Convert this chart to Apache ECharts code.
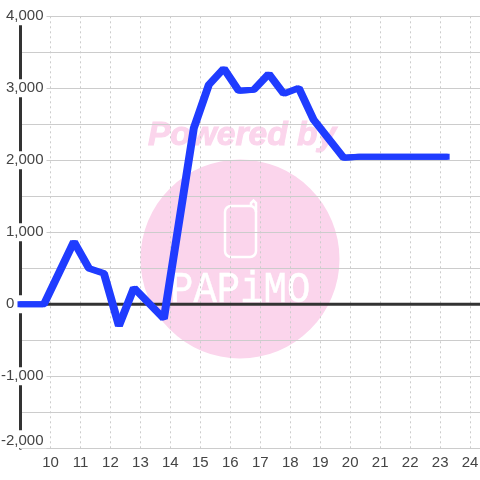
<!DOCTYPE html>
<html>
<head>
<meta charset="utf-8">
<style>
    html, body { margin: 0; padding: 0; background: #fff; }
    #chart { width: 480px; height: 480px; }
</style>
<script src="https://cdn.jsdelivr.net/npm/echarts@6/dist/echarts.min.js"></script>
</head>
<body>
<div id="chart"></div>
<script>
    var hours = [8.9, 9.75, 10.75, 11.25, 11.75, 12.25, 12.75, 13.75, 14.75, 15.25, 15.75, 16.25, 16.75, 17.25, 17.75, 18.25, 18.75, 19.75, 20.25, 23.25];
    var balance = [0, 0, 870, 500, 430, -300, 228, -200, 2450, 3050, 3275, 2965, 2980, 3200, 2925, 3005, 2560, 2035, 2050, 2050];
    var zeroLineX = [9, 24.33];
    var zeroLineY = [0, 0];

    function zip(xs, ys) {
        return xs.map(function (x, i) { return [x, ys[i]]; });
    }

    var chart = echarts.init(document.getElementById('chart'));
    chart.setOption({
        animation: false,
        textStyle: { fontFamily: 'Liberation Sans' },
        grid: { left: 20.5, right: 0, top: 16.3, bottom: 31.7, outerBoundsMode: 'none' },
        // watermark sits under the grid lines
        graphic: [
            { type: 'circle', z: -5, shape: { cx: 240, cy: 259, r: 99.5 }, style: { fill: '#fbd5ec' } },
            { type: 'text', z: -5, x: 148, y: 119, style: { text: 'Powered by', font: 'italic bold 33.5px "Liberation Sans"', fill: '#fbd5ec', stroke: '#fbd5ec', lineWidth: 1 } },
            { type: 'rect', z: -5, shape: { x: 225, y: 206, width: 31, height: 51, r: 6 }, style: { fill: 'none', stroke: '#fff', lineWidth: 2.5 } },
            { type: 'polyline', z: -5, shape: { points: [[251, 206], [251, 203], [253.5, 200.5], [256, 203], [256, 212]] }, style: { fill: 'none', stroke: '#fff', lineWidth: 2.5 } },
            { type: 'text', z: -5, x: 170, y: 268, scaleY: 1.15, style: { text: 'PAPiMO', font: '39px "Liberation Mono"', fill: '#fff', stroke: '#fff', lineWidth: 0.4 } }
        ],
        xAxis: {
            type: 'value',
            min: 9,
            max: 24.33,
            interval: 1,
            axisLine: { show: true, onZero: false, lineStyle: { color: '#ccc', width: 1 } },
            axisTick: { show: false },
            axisLabel: {
                color: '#444',
                fontSize: 15,
                margin: 7,
                showMaxLabel: false,
                formatter: function (v) { return v === 9 ? '' : String(v); }
            },
            splitLine: { show: true, lineStyle: { color: '#ccc', width: 1, type: [2, 3] } }
        },
        yAxis: {
            type: 'value',
            min: -2000,
            max: 4000,
            interval: 1000,
            axisLine: { show: true, onZero: false, lineStyle: { color: '#333', width: 3 } },
            axisTick: { show: false },
            axisLabel: {
                color: '#444',
                fontSize: 15,
                margin: -26,
                backgroundColor: '#fff',
                padding: [3, 3, 0, 1],
                verticalAlignMinLabel: 'bottom',
                formatter: function (v) {
                    // the 0 sits further left than the other labels
                    return v === 0 ? '0       ' : v.toLocaleString('en-US');
                }
            },
            splitLine: { show: true, lineStyle: { color: '#ccc', width: 1 } },
            minorTick: { show: false, splitNumber: 2 },
            minorSplitLine: { show: true, lineStyle: { color: '#ccc', width: 1 } }
        },
        series: [
            {
                name: 'zero',
                type: 'line',
                z: 1,
                symbol: 'none',
                lineStyle: { color: '#333', width: 3 },
                data: zip(zeroLineX, zeroLineY)
            },
            {
                name: 'balance',
                type: 'line',
                z: 3,
                clip: false,
                symbol: 'none',
                // pen in the reference is wider than tall, the x shadow gives that
                lineStyle: { color: '#1f3cff', width: 6, join: 'bevel', cap: 'butt', shadowColor: '#1f3cff', shadowOffsetX: 2, shadowBlur: 0 },
                data: zip(hours, balance)
            }
        ]
    });
</script>
</body>
</html>
